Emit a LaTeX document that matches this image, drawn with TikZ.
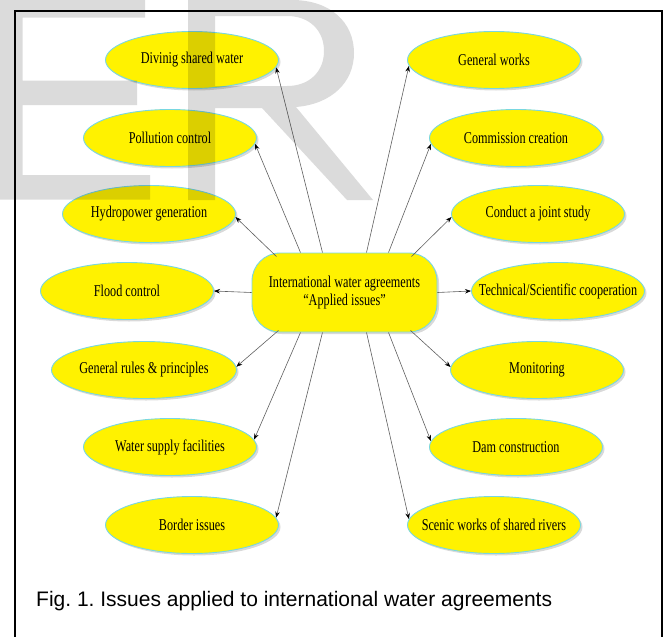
\documentclass[tikz,border=0pt]{standalone}
\usepackage{fontspec}
\setmainfont[FakeStretch=0.74]{Liberation Serif}
\newfontfamily\captionfont{Liberation Sans}
\usepackage{tikz}
\usetikzlibrary{shapes.geometric,arrows.meta,shadows}
\frenchspacing
\definecolor{rim}{RGB}{120,215,225}
\definecolor{linkgray}{RGB}{95,95,95}
\tikzstyle{issue}=[
        ellipse,
        draw=rim,
        line width=0.9pt,
        fill=yellow,
        minimum width=173pt,
        minimum height=57pt,
        inner xsep=-40pt,
        font=\fontsize{16.5}{18}\selectfont,
        drop shadow={shadow xshift=2pt,shadow yshift=-2pt,opacity=0.3,fill=black!50}
]
\tikzstyle{hubbox}=[
        rectangle,
        rounded corners=28pt,
        draw=rim,
        line width=0.9pt,
        fill=yellow,
        minimum width=185pt,
        minimum height=79pt,
        align=center,
        font=\fontsize{16.5}{18}\selectfont,
        drop shadow={shadow xshift=2pt,shadow yshift=-2pt,opacity=0.3,fill=black!50}
]
\tikzstyle{link}=[
        draw=linkgray,
        line width=0.6pt,
        -{Stealth[length=6pt,width=4.5pt,color=black]}
]

\begin{document}
\begin{tikzpicture}[x=1pt,y=-1pt]
                    \useasboundingbox (0,0) rectangle (672,637);

                    \draw[line width=2pt] (14.5,640) -- (14.5,10.5) -- (661.5,10.5) -- (661.5,640);

                    \node[hubbox] (hub) at (344.5,292.5) {International water agreements\\``Applied issues''};

                    % left column
                    \node[issue] (dsw) at (192,60) {Divinig shared water};
                    \node[issue] (pol) at (170,138) {Pollution control};
                    \node[issue] (hyd) at (149,214) {Hydropower generation};
                    \node[issue] (flo) at (127,291) {Flood control};
                    \node[issue,minimum width=185pt] (gen) at (144,370) {General rules \& principles};
                    \node[issue] (wsf) at (170,447) {Water supply facilities};
                    \node[issue] (bor) at (192,525) {Border issues};

                    % right column
                    \node[issue] (gw) at (494,60) {General works};
                    \node[issue] (com) at (516,138) {Commission creation};
                    \node[issue] (cjs) at (538,214) {Conduct a joint study};
                    \node[issue] (tsc) at (558,291) {Technical/Scientific cooperation};
                    \node[issue] (mon) at (537,370) {Monitoring};
                    \node[issue] (dam) at (516,447) {Dam construction};
                    \node[issue] (sce) at (494,525) {Scenic works of shared rivers};

                    \foreach \n/\dx/\dy/\a in {hyd/-68/4/-2, pol/-44/0/-4, dsw/-22/0/-5, gw/22/0/184, com/44/0/184, cjs/67/4/182} {
                        \draw[link] ([shift={(\dx,\dy)}]hub.north) -- (\n.\a);
                    }

                    \foreach \n/\dx/\dy/\a in {gen/-66/-2/2, wsf/-44/0/5, bor/-22/0/5, sce/22/0/176, dam/44/0/176, mon/66/-2/178} {
                        \draw[link] ([shift={(\dx,\dy)}]hub.south) -- (\n.\a);
                    }

                    \draw[link] (hub.west) -- (flo.east);
                    \draw[link] (hub.east) -- (tsc.west);

                    \node[anchor=base west,inner sep=0pt,font=\captionfont\fontsize{21}{24}\selectfont] (caption) at (36,606) {Fig. 1. Issues applied to international water agreements};

                    % watermark
                    \fill[black,opacity=0.14] (0,0) -- (145,0) -- (145,17.5) -- (22.7,17.5) -- (22.7,80.5) -- (137,80.5) -- (137,105) -- (22.7,105) -- (22.7,175) -- (150,175) -- (150,199.5) -- (0,199.5) -- cycle;
                    \fill[black,opacity=0.14,even odd rule] (188,0) -- (292,0) .. controls (330,0) and (354,22) .. (354,53) .. controls (354,82) and (332,104) .. (296,107) -- (373,200) -- (347,200) -- (262,108) -- (215,108) -- (215,200) -- (188,200) -- cycle
                        (215,16) -- (287,16) .. controls (310,16) and (324,31) .. (324,51) .. controls (324,71) and (310,86) .. (287,86) -- (215,86) -- cycle;

                \end{tikzpicture}
\end{document}
